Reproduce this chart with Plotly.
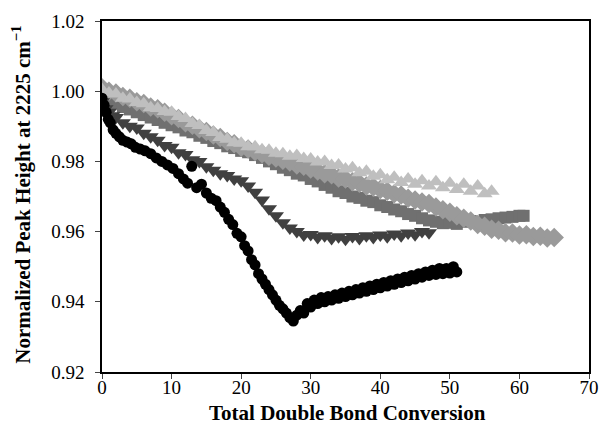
import plotly.graph_objects as go

# Normalized nitrile peak height (2225 cm-1) versus total double bond conversion

# Series 1 - black circles
circ_x = [0, 0.3, 0.6, 0.9, 1.2, 1.6, 2.0, 2.5, 3.0, 3.6, 4.2, 4.8, 5.5, 6.2, 7.0, 7.8,
          8.6, 9.4, 10.2, 11.0, 11.7, 12.3, 12.9, 13.6, 14.3, 15.0, 15.7, 16.4, 17.0, 17.6,
          18.2, 18.8, 19.4, 20.0, 20.5, 21.0, 21.5, 22.0, 22.5, 23.0, 23.5, 24.0, 24.5,
          25.0, 25.5, 26.0, 26.5, 27.0, 27.5, 28.0, 28.5, 29.0, 29.5, 30.0, 30.5, 31.0,
          31.5, 32.0, 32.5, 33.0, 33.5, 34.0, 34.5, 35.0, 35.5, 36.0, 36.5, 37.0, 37.5,
          38.0, 38.5, 39.0, 39.5, 40.0, 40.5, 41.0, 41.5, 42.0, 42.5, 43.0, 43.5, 44.0,
          44.5, 45.0, 45.5, 46.0, 46.5, 47.0, 47.5, 48.0, 48.5, 49.0, 49.5, 50.0, 50.5, 51.0]
circ_y = [0.9980, 0.9960, 0.9940, 0.9920, 0.9910, 0.9890, 0.9880, 0.9870, 0.9860, 0.9855,
          0.9850, 0.9840, 0.9835, 0.9830, 0.9822, 0.9810, 0.9800, 0.9790, 0.9780, 0.9765,
          0.9750, 0.9738, 0.9786, 0.9725, 0.9735, 0.9710, 0.9695, 0.9688, 0.9670, 0.9655,
          0.9635, 0.9620, 0.9595, 0.9585, 0.9560, 0.9545, 0.9520, 0.9505, 0.9480, 0.9465,
          0.9450, 0.9435, 0.9420, 0.9405, 0.9390, 0.9380, 0.9368, 0.9355, 0.9345, 0.9362,
          0.9375, 0.9368, 0.9395, 0.9385, 0.9405, 0.9395, 0.9412, 0.9400, 0.9415, 0.9405,
          0.9420, 0.9410, 0.9425, 0.9415, 0.9430, 0.9420, 0.9435, 0.9425, 0.9440, 0.9430,
          0.9445, 0.9435, 0.9450, 0.9440, 0.9455, 0.9445, 0.9460, 0.9450, 0.9465, 0.9455,
          0.9470, 0.9460, 0.9475, 0.9465, 0.9480, 0.9470, 0.9485, 0.9475, 0.9490, 0.9478,
          0.9495, 0.9480, 0.9495, 0.9482, 0.9500, 0.9485]

# Series 2 - dark grey down-triangles
tdn_x = [0, 0.5, 1, 1.5, 2, 3, 4, 5, 6, 7, 8, 9, 10, 11, 12, 13, 14, 15, 16, 17, 18, 19,
         20, 21, 22, 23, 24, 25, 26, 27, 28, 29, 30, 31, 32, 33, 34, 35, 36, 37, 38, 39,
         40, 41, 42, 43, 44, 45, 46, 47]
tdn_y = [0.9970, 0.9950, 0.9940, 0.9930, 0.9925, 0.9910, 0.9900, 0.9895, 0.9880, 0.9870,
         0.9860, 0.9845, 0.9840, 0.9825, 0.9820, 0.9805, 0.9800, 0.9785, 0.9775, 0.9765,
         0.9760, 0.9750, 0.9745, 0.9730, 0.9712, 0.9690, 0.9665, 0.9645, 0.9625, 0.9610,
         0.9600, 0.9590, 0.9592, 0.9583, 0.9588, 0.9580, 0.9585, 0.9578, 0.9586, 0.9580,
         0.9588, 0.9583, 0.9590, 0.9585, 0.9593, 0.9588, 0.9596, 0.9591, 0.9600, 0.9597]

# Series 3 - grey squares
sq_x = [0, 1, 2, 3, 4, 5, 6, 7, 8, 9, 10, 11, 12, 13, 14, 15, 16, 17, 18, 19, 20, 21, 22,
        23, 24, 25, 26, 27, 28, 29, 30, 31, 32, 33, 34, 35, 36, 37, 38, 39, 40, 41, 42,
        43, 44, 45, 46, 47, 48, 49, 50, 51, 52, 53, 54, 55, 56, 57, 58, 59, 60, 60.6]
sq_y = [0.9990, 0.9975, 0.9965, 0.9955, 0.9948, 0.9940, 0.9932, 0.9925, 0.9918, 0.9910,
        0.9903, 0.9897, 0.9888, 0.9883, 0.9873, 0.9867, 0.9858, 0.9852, 0.9843, 0.9838,
        0.9830, 0.9826, 0.9818, 0.9810, 0.9800, 0.9792, 0.9782, 0.9775, 0.9765, 0.9760,
        0.9750, 0.9743, 0.9733, 0.9725, 0.9715, 0.9710, 0.9700, 0.9696, 0.9688, 0.9684,
        0.9675, 0.9670, 0.9663, 0.9658, 0.9650, 0.9645, 0.9638, 0.9632, 0.9628, 0.9624,
        0.9625, 0.9622, 0.9628, 0.9630, 0.9627, 0.9633, 0.9635, 0.9638, 0.9640, 0.9642,
        0.9645, 0.9645]

# Series 4 - mid grey diamonds
dm_x = [0, 1, 2, 3, 4, 5, 6, 7, 8, 9, 10, 11, 12, 13, 14, 15, 16, 17, 18, 19, 20, 21, 22,
        23, 24, 25, 26, 27, 28, 29, 30, 31, 32, 33, 34, 35, 36, 37, 38, 39, 40, 41, 42,
        43, 44, 45, 46, 47, 48, 49, 50, 51, 52, 53, 54, 55, 56, 57, 58, 59, 60, 61, 62,
        63, 64, 65]
dm_y = [1.0010, 1.0000, 0.9995, 0.9985, 0.9980, 0.9970, 0.9965, 0.9955, 0.9950, 0.9940,
        0.9930, 0.9922, 0.9910, 0.9903, 0.9893, 0.9885, 0.9875, 0.9868, 0.9857, 0.9850,
        0.9840, 0.9835, 0.9828, 0.9822, 0.9815, 0.9810, 0.9803, 0.9798, 0.9790, 0.9786,
        0.9778, 0.9773, 0.9765, 0.9762, 0.9753, 0.9750, 0.9742, 0.9738, 0.9730, 0.9727,
        0.9720, 0.9715, 0.9708, 0.9704, 0.9695, 0.9690, 0.9684, 0.9680, 0.9670, 0.9662,
        0.9655, 0.9645, 0.9638, 0.9630, 0.9620, 0.9615, 0.9607, 0.9604, 0.9597, 0.9596,
        0.9590, 0.9591, 0.9586, 0.9587, 0.9582, 0.9583]

# Series 5 - light grey up-triangles
tup_x = [0, 1, 2, 3, 4, 5, 6, 7, 8, 9, 10, 11, 12, 13, 14, 15, 16, 17, 18, 19, 20, 21, 22,
         23, 24, 25, 26, 27, 28, 29, 30, 31, 32, 33, 34, 35, 36, 37, 38, 39, 40, 41, 42,
         43, 44, 45, 46, 47, 48, 49, 50, 51, 52, 53, 54, 55, 56]
tup_y = [1.0005, 0.9995, 0.9992, 0.9980, 0.9978, 0.9968, 0.9964, 0.9953, 0.9951, 0.9942,
         0.9940, 0.9928, 0.9922, 0.9908, 0.9902, 0.9888, 0.9882, 0.9868, 0.9863, 0.9853,
         0.9852, 0.9842, 0.9842, 0.9833, 0.9832, 0.9823, 0.9822, 0.9815, 0.9817, 0.9808,
         0.9807, 0.9798, 0.9800, 0.9788, 0.9790, 0.9778, 0.9782, 0.9768, 0.9772, 0.9758,
         0.9762, 0.9748, 0.9755, 0.9740, 0.9750, 0.9735, 0.9745, 0.9730, 0.9742, 0.9725,
         0.9738, 0.9720, 0.9735, 0.9715, 0.9730, 0.9708, 0.9715]

x_ticks = [0, 10, 20, 30, 40, 50, 60, 70]
y_ticks = [0.92, 0.94, 0.96, 0.98, 1.00, 1.02]

series = [
    (sq_x, sq_y, "square", "#707070", 12),
    (dm_x, dm_y, "diamond", "#9a9a9a", 15),
    (tup_x, tup_y, "triangle-up", "#bfbfbf", 14),
    (tdn_x, tdn_y, "triangle-down", "#404040", 14),
    (circ_x, circ_y, "circle", "#000000", 11),
]

fig = go.Figure()
for xs, ys, sym, col, sz in series:
    fig.add_trace(go.Scatter(
        x=xs, y=ys, mode="markers",
        marker=dict(symbol=sym, color=col, size=sz, line=dict(width=0)),
        showlegend=False,
    ))

serif = "Liberation Serif, Times New Roman, serif"
fig.update_layout(
    width=599, height=426,
    margin=dict(l=102, r=10, t=21, b=54),
    paper_bgcolor="white", plot_bgcolor="white",
    font=dict(family=serif, size=19, color="black"),
)
fig.update_xaxes(
    range=[0, 70], tickvals=x_ticks, ticks="outside", ticklen=5, tickwidth=1,
    showline=True, linecolor="black", linewidth=1.5, mirror=True, showgrid=False,
    zeroline=False, tickfont=dict(family=serif, size=19), automargin=False,
    ticklabelstandoff=-8,
)
fig.update_yaxes(
    range=[0.92, 1.02], tickvals=y_ticks, tickformat=".2f", ticks="outside", ticklen=5,
    tickwidth=1, showline=True, linecolor="black", linewidth=1.5, mirror=True,
    showgrid=False, zeroline=False, tickfont=dict(family=serif, size=19), automargin=False,
    ticklabelstandoff=7,
)

# Axis titles placed as paper-anchored annotations
fig.add_annotation(
    text="<b>Total Double Bond Conversion</b>", xref="paper", yref="paper",
    x=0.504, y=0, yshift=-41, xanchor="center", yanchor="middle", showarrow=False,
    font=dict(family=serif, size=21),
)
fig.add_annotation(
    text="<b>Normalized Peak Height at 2225 cm<sup>\u22121</sup></b>", xref="paper",
    yref="paper", x=0, xshift=-80, y=0.505, xanchor="center", yanchor="middle",
    textangle=-90, showarrow=False, font=dict(family=serif, size=21),
)

fig.write_html("out.html")
